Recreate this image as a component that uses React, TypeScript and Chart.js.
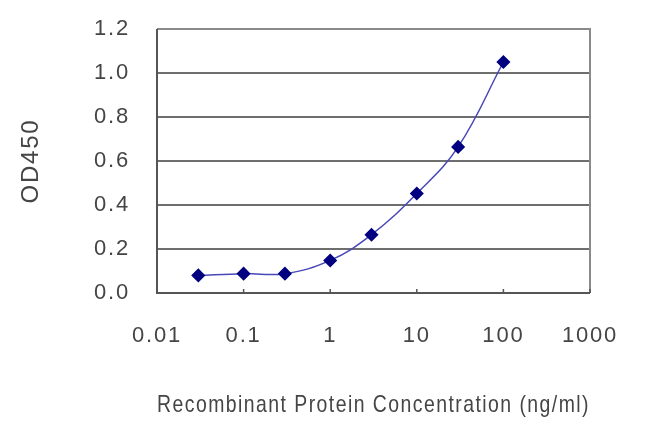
import React, { useEffect, useRef } from "react";
import { Chart, registerables } from "chart.js";

Chart.register(...registerables);

const concentrations = [0.03, 0.1, 0.3, 1, 3, 10, 30, 100];
const od450 = [0.08, 0.088, 0.088, 0.148, 0.265, 0.452, 0.664, 1.05];
const xTicks = [0.01, 0.1, 1, 10, 100, 1000];
const xTickLabels = ["0.01", "0.1", "1", "10", "100", "1000"];
const yTicks = [0, 0.2, 0.4, 0.6, 0.8, 1.0, 1.2];
const xTitle = "Recombinant Protein Concentration (ng/ml)";
const yTitle = "OD450";

const FONT = "'Liberation Sans', Arial, sans-serif";

const frame = {
  id: "frame",
  beforeDraw(chart: any) {
    (chart.ctx as any).letterSpacing = "1.8px";
  },
  beforeDatasetsDraw(chart: any) {
    const { ctx, chartArea: a } = chart;
    ctx.save();
    ctx.strokeStyle = "#8a8a8a";
    ctx.lineWidth = 2;
    ctx.beginPath();
    ctx.moveTo(a.left, a.top);
    ctx.lineTo(a.right, a.top);
    ctx.lineTo(a.right, a.bottom);
    ctx.stroke();
    ctx.strokeStyle = "#555";
    ctx.beginPath();
    ctx.moveTo(a.left, a.top);
    ctx.lineTo(a.left, a.bottom);
    ctx.lineTo(a.right, a.bottom);
    ctx.stroke();
    const xs = chart.scales.x;
    ctx.lineWidth = 1.5;
    xTicks.forEach((v) => {
      const px = xs.getPixelForValue(v);
      ctx.beginPath();
      ctx.moveTo(px, a.bottom);
      ctx.lineTo(px, a.bottom - 4);
      ctx.stroke();
    });
    ctx.restore();
  },
};

export default function App() {
  const ref = useRef<HTMLCanvasElement>(null);
  useEffect(() => {
    if (!ref.current) return;
    const chart = new Chart(ref.current, {
      type: "line",
      data: {
        datasets: [
          {
            data: concentrations.map((x, i) => ({ x, y: od450[i] })),
            borderColor: "#4848b8",
            borderWidth: 1.5,
            backgroundColor: "#000080",
            pointBackgroundColor: "#000080",
            pointBorderColor: "#000080",
            pointStyle: "rectRot",
            pointRadius: 6,
            tension: 0.4,
            fill: false,
          },
        ],
      },
      plugins: [frame],
      options: {
        animation: false,
        responsive: true,
        maintainAspectRatio: false,
        layout: { padding: { left: 0, top: 29, right: 60, bottom: 0 } },
        plugins: { legend: { display: false }, tooltip: { enabled: false } },
        scales: {
          x: {
            type: "logarithmic",
            min: 0.01,
            max: 1000,
            afterBuildTicks: (s: any) => {
              s.ticks = xTicks.map((v) => ({ value: v }));
            },
            afterFit: (s: any) => {
              s.height = 140;
              s.paddingLeft = 0;
              s.paddingRight = 0;
            },
            ticks: {
              autoSkip: false,
              maxRotation: 0,
              padding: 30,
              color: "#454545",
              font: { family: FONT, size: 22 },
              callback: (v: any) => {
                const i = xTicks.indexOf(Number(v));
                return i >= 0 ? xTickLabels[i] : "";
              },
            },
            grid: { display: false, drawTicks: false },
            border: { display: false },
            title: {
              display: true,
              text: xTitle,
              color: "#454545",
              font: { family: FONT, size: 24 },
              padding: { top: 0, bottom: 13 },
            },
          },
          y: {
            min: 0,
            max: 1.2,
            afterBuildTicks: (s: any) => {
              s.ticks = yTicks.map((v) => ({ value: v }));
            },
            afterFit: (s: any) => {
              s.width = 157;
              s.paddingTop = 0;
              s.paddingBottom = 0;
            },
            ticks: {
              padding: 27,
              color: "#454545",
              font: { family: FONT, size: 22 },
              callback: (v: any) => Number(v).toFixed(1),
            },
            grid: { color: "#6e6e6e", lineWidth: 2, drawTicks: false },
            border: { display: false },
            title: {
              display: true,
              text: yTitle,
              color: "#454545",
              font: { family: FONT, size: 24 },
              padding: { top: 17, bottom: 0 },
            },
          },
        },
      },
    });
    return () => chart.destroy();
  }, []);
  return (
    <div style={{ position: "absolute", left: 0, top: 0, width: 650, height: 433, background: "#fff" }}>
      <canvas ref={ref} />
    </div>
  );
}
